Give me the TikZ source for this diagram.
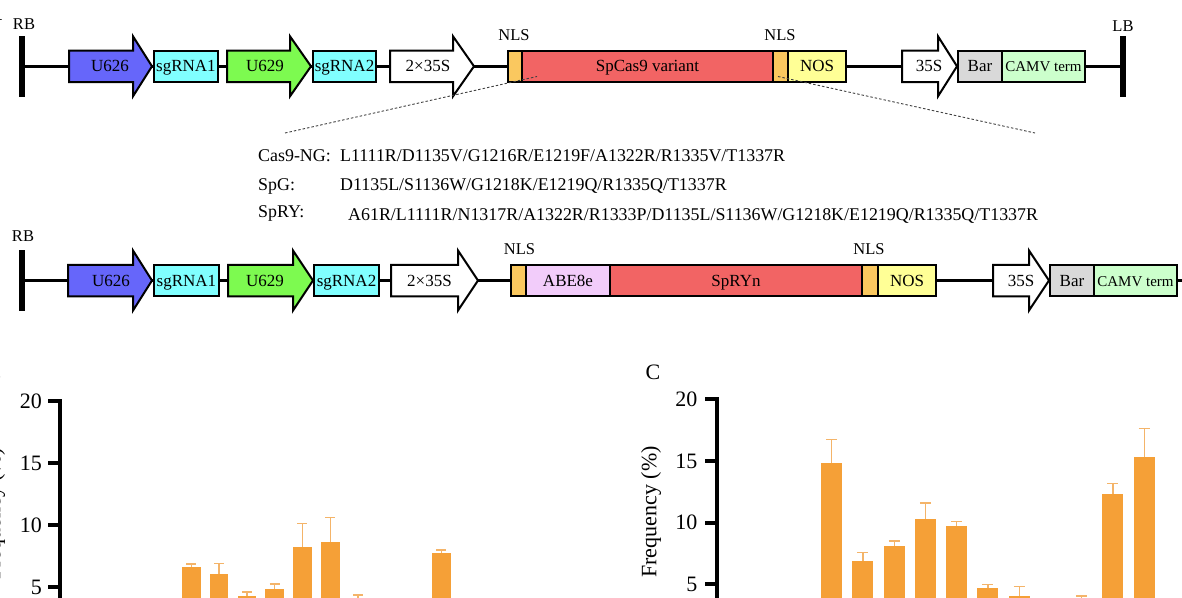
\documentclass[tikz,border=0pt]{standalone}
\usepackage{fontspec}
\setmainfont{Liberation Serif}
\definecolor{cblue}{RGB}{102,102,250}
\definecolor{ccyan}{RGB}{128,255,255}
\definecolor{cgreen}{RGB}{125,250,80}
\definecolor{cnls}{RGB}{250,200,95}
\definecolor{cred}{RGB}{242,100,100}
\definecolor{cnos}{RGB}{255,255,150}
\definecolor{cgrey}{RGB}{217,217,217}
\definecolor{ccamv}{RGB}{204,255,204}
\definecolor{cabe}{RGB}{242,204,250}
\definecolor{cbar}{RGB}{245,160,55}
\definecolor{cerr}{RGB}{244,180,105}
\newcommand\genefont{\fontsize{17}{20}\selectfont}
\newcommand\camvfont{\fontsize{15}{18}\selectfont}
\newcommand\labfont{\fontsize{16.5}{19}\selectfont}
\newcommand\mutfont{\fontsize{17.9}{21}\selectfont}
\newcommand\axfont{\fontsize{22}{26}\selectfont}
\tikzset{
  gene/.style={draw=black, line width=2pt, inner sep=0pt, minimum height=31.5pt,
    anchor=west, font=\genefont, text height=11.3pt, text depth=0pt},
  ptext/.style={inner sep=0pt, font=\genefont, text height=11.3pt, text depth=0pt},
  promoter/.style={draw=black, line width=2pt, line join=miter},
  backbone/.style={line width=2.8pt},
  border/.style={fill=black, draw=none, inner sep=0pt, minimum width=5.5pt, minimum height=61pt},
  lab/.style={font=\labfont, inner sep=0pt},
  zoomline/.style={dash pattern=on 2.5pt off 2pt, line width=0.9pt, black!75},
  mut/.style={font=\mutfont, anchor=base west, inner sep=0pt},
  err/.style={draw=cerr, line width=1.4pt},
  axisline/.style={line width=4pt},
  tickline/.style={line width=4pt},
  ticklbl/.style={font=\axfont, anchor=east, inner sep=0pt},
  axlbl/.style={font=\axfont, inner sep=0pt},
}
% name, x0, head start, tip, y centre, fill, text x, text
\newcommand\promo[8]{%
  \draw[promoter,fill=#6] (#2,#5-15.75) -- (#3,#5-15.75) -- (#3,#5-30) -- (#4,#5)
     -- (#3,#5+30) -- (#3,#5+15.75) -- (#2,#5+15.75) -- cycle;
  \node[ptext] (#1) at (#7,#5) {#8};}
\begin{document}
\begin{tikzpicture}[x=1pt,y=-1pt]
\useasboundingbox (0,0) rectangle (1182,597);
\clip (0,0) rectangle (1182,597);

% partially cut panel labels
\node[axlbl, anchor=base east] (pA) at (2.5,20) {A};
\node[axlbl, anchor=base east] (pB) at (1.5,381) {B};

% ---------------- row 1 ----------------
\node[border] (rb1) at (22,66.3) {};
\node[border] (lb1) at (1123,66.3) {};
\draw[backbone] (rb1) -- (lb1);
\node[lab] (rbl1) at (24,24) {RB};
\node[lab] (lbl1) at (1123,26) {LB};

\promo{pa1}{69}{133}{152}{66.3}{cblue}{110}{U626}
\node[gene,fill=ccyan,minimum width=64pt] (sga1) at (153,66.3) {sgRNA1};
\promo{pb1}{227}{290}{311}{66.3}{cgreen}{265}{U629}
\node[gene,fill=ccyan,minimum width=63pt] (sgb1) at (312,66.3) {sgRNA2};
\promo{pc1}{390}{453}{474}{66.3}{white}{428}{2×35S}
\node[gene,fill=cnls,minimum width=14pt] (nlsa1) at (507,66.3) {};
\node[gene,fill=cred,minimum width=251pt] (cas1) at (521,66.3) {SpCas9 variant};
\node[gene,fill=cnls,minimum width=15pt] (nlsb1) at (772,66.3) {};
\node[gene,fill=cnos,minimum width=58pt] (nos1) at (787,66.3) {NOS};
\promo{pd1}{902}{938}{957}{66.3}{white}{929}{35S}
\node[gene,fill=cgrey,minimum width=44pt] (bar1) at (957,66.3) {Bar};
\node[gene,fill=ccamv,minimum width=83pt,font=\camvfont] (camv1) at (1001,66.3) {CAMV term};
\node[lab] (nlsl1) at (514,35) {NLS};
\node[lab] (nlsl2) at (780,35) {NLS};

% zoom lines
\coordinate (zl) at (285,133);
\coordinate (zla) at (537,76.5);
\coordinate (zra) at (778,76.5);
\coordinate (zr) at (1035,133);
\draw[zoomline] (zl) -- (zla);
\draw[zoomline] (zra) -- (zr);

% mutations
\node[mut] (ng) at (258,161) {Cas9-NG:};
\node[mut] (ngm) at (340,161) {L1111R/D1135V/G1216R/E1219F/A1322R/R1335V/T1337R};
\node[mut] (spg) at (258,190) {SpG:};
\node[mut] (spgm) at (340,190) {D1135L/S1136W/G1218K/E1219Q/R1335Q/T1337R};
\node[mut] (spry) at (258,217) {SpRY:};
\node[mut] (sprym) at (348,220) {A61R/L1111R/N1317R/A1322R/R1333P/D1135L/S1136W/G1218K/E1219Q/R1335Q/T1337R};

% ---------------- row 2 ----------------
\node[border] (rb2) at (22,280.5) {};
\coordinate (end2) at (1190,280.5);
\draw[backbone] (rb2) -- (end2);
\node[lab] (rbl2) at (23,236) {RB};

\promo{pa2}{68}{133}{152}{280.5}{cblue}{111}{U626}
\node[gene,fill=ccyan,minimum width=65pt] (sga2) at (153,280.5) {sgRNA1};
\promo{pb2}{228}{293}{313}{280.5}{cgreen}{265}{U629}
\node[gene,fill=ccyan,minimum width=65pt] (sgb2) at (313,280.5) {sgRNA2};
\promo{pc2}{391}{458}{478}{280.5}{white}{429.5}{2×35S}
\node[gene,fill=cnls,minimum width=15pt] (nlsa2) at (510,280.5) {};
\node[gene,fill=cabe,minimum width=84pt] (abe2) at (525,280.5) {ABE8e};
\node[gene,fill=cred,minimum width=252pt] (spry2) at (609,280.5) {SpRYn};
\node[gene,fill=cnls,minimum width=16pt] (nlsb2) at (861,280.5) {};
\node[gene,fill=cnos,minimum width=58pt] (nos2) at (877,280.5) {NOS};
\promo{pd2}{993}{1029}{1049}{280.5}{white}{1021}{35S}
\node[gene,fill=cgrey,minimum width=44pt] (bar2) at (1049,280.5) {Bar};
\node[gene,fill=ccamv,minimum width=83pt,font=\camvfont] (camv2) at (1093,280.5) {CAMV term};
\node[lab] (nlsl3) at (519.5,249) {NLS};
\node[lab] (nlsl4) at (869,249) {NLS};

% ---------------- chart B (left) ----------------
\foreach \x/\v/\e in {182/6.6/6.85, 209.8/6.07/6.9, 237.6/4.27/4.6, 265.4/4.84/5.24,
    293.2/8.25/10.1, 321/8.6/10.62, 348.8/3.9/4.35, 432.2/7.74/8.0} {
  \fill[cbar] (\x,{649-12.4*\v}) rectangle ({\x+18.5},600);
  \draw[err] ({\x+9.25},{649-12.4*\v}) -- ({\x+9.25},{649-12.4*\e})
             ({\x+4.25},{649-12.4*\e}) -- ({\x+14.25},{649-12.4*\e});
}
\draw[axisline] (60,399) -- (60,600);
\foreach \v in {5,10,15,20} {
  \draw[tickline] (48,{649-12.4*\v}) -- (60,{649-12.4*\v});
  \node[ticklbl] (tb\v) at (42,{649-12.4*\v}) {\v};
}
\node[axlbl, rotate=90] (ylb) at (-5,514) {Frequency (\%)};

% ---------------- chart C (right) ----------------
\node[axlbl] (pC) at (653,372) {C};
\foreach \x/\v/\e in {821.2/14.86/16.76, 852.4/6.92/7.59, 883.7/8.14/8.51, 914.9/10.3/11.6,
    946.2/9.73/10.08, 977.4/4.68/4.97, 1008.7/4.03/4.81, 1071.2/3.7/4.05,
    1102.4/12.3/13.19, 1133.7/15.3/17.62} {
  \fill[cbar] (\x,{646-12.33*\v}) rectangle ({\x+21},600);
  \draw[err] ({\x+10.5},{646-12.33*\v}) -- ({\x+10.5},{646-12.33*\e})
             ({\x+5},{646-12.33*\e}) -- ({\x+16},{646-12.33*\e});
}
\draw[axisline] (716.5,397.4) -- (716.5,600);
\foreach \v in {5,10,15,20} {
  \draw[tickline] (705,{646-12.33*\v}) -- (716.5,{646-12.33*\v});
  \node[ticklbl] (tc\v) at (697.5,{646-12.33*\v}) {\v};
}
\node[axlbl, rotate=90] (ylc) at (651,512) {Frequency (\%)};
\end{tikzpicture}
\end{document}
